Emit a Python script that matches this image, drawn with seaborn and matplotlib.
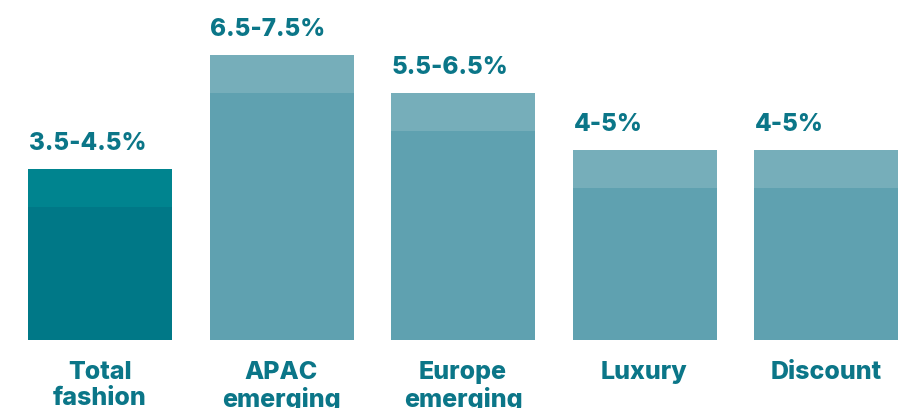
import matplotlib
matplotlib.use("Agg")
import matplotlib.pyplot as plt
import seaborn as sns
import pandas as pd

categories = ["Total\nfashion", "APAC\nemerging", "Europe\nemerging", "Luxury", "Discount"]
low_values = [3.5, 6.5, 5.5, 4.0, 4.0]
high_values = [4.5, 7.5, 6.5, 5.0, 5.0]
value_labels = ["3.5-4.5%", "6.5-7.5%", "5.5-6.5%", "4-5%", "4-5%"]

light_colors = ["#00848F", "#76AEBA", "#76AEBA", "#76AEBA", "#76AEBA"]
dark_colors = ["#007887", "#5FA1B0", "#5FA1B0", "#5FA1B0", "#5FA1B0"]
text_color = "#0B7688"

df = pd.DataFrame({"cat": categories, "low": low_values, "high": high_values})

sns.set_theme(style="white")
plt.rcParams["font.family"] = ["Inter", "DejaVu Sans"]

fig = plt.figure(figsize=(9.1, 4.08), dpi=100)
ax = fig.add_axes([0, 0, 1, 1])

width = 144 / 181.5
sns.barplot(data=df, x="cat", y="high", hue="cat", palette=light_colors,
            width=width, legend=False, ax=ax, saturation=1, linewidth=0)
sns.barplot(data=df, x="cat", y="low", hue="cat", palette=dark_colors,
            width=width, legend=False, ax=ax, saturation=1, linewidth=0)

for i, (h, lab) in enumerate(zip(high_values, value_labels)):
    ax.text(i - width / 2 + 0.005, h + 0.5, lab, ha="left", va="baseline",
            fontsize=17.5, fontweight=800, color=text_color)

for i, c in enumerate(categories):
    ax.text(i, -0.55, c, ha="center", va="top", fontsize=18,
            fontweight=800, color=text_color, linespacing=1.15)

ax.set_xlim(-100 / 181.5, (910 - 100) / 181.5)
ax.set_ylim(-68 / 38, 340 / 38)
ax.axis("off")

fig.savefig("out.png", dpi=100)
